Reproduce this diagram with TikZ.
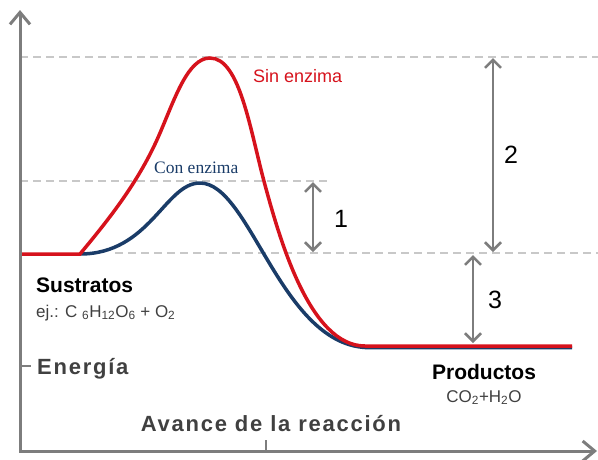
\documentclass[tikz,border=0pt]{standalone}
\usepackage{fontspec}
\setmainfont{Liberation Sans}
\newfontfamily\timesfont{Liberation Serif}
\newfontfamily\widefont[LetterSpace=8]{Liberation Sans}
\usetikzlibrary{arrows.meta}

\definecolor{sinred}{RGB}{214,18,28}
\definecolor{conblue}{RGB}{26,60,104}
\definecolor{axisgray}{RGB}{125,125,125}
\definecolor{guidegray}{RGB}{200,200,200}
\definecolor{labelgray}{RGB}{64,64,64}

\begin{document}
\begin{tikzpicture}[
  x=1pt, y=-1pt,
  every node/.style={inner sep=0pt},
  axis/.style={draw=axisgray, line width=3pt},
  guide/.style={draw=guidegray, line width=2pt, dash pattern=on 8pt off 5pt},
  span/.style={draw=axisgray, line width=2.5pt,
    {Straight Barb[length=8pt,width=16pt]}-{Straight Barb[length=8pt,width=16pt]}},
  sinline/.style={draw=sinred, line width=3.5pt},
  conline/.style={draw=conblue, line width=3.5pt},
  axislabel/.style={font=\widefont\fontsize{22}{26}\selectfont\bfseries, text=labelgray},
  statelabel/.style={font=\fontsize{21}{25}\selectfont\bfseries},
  formula/.style={font=\fontsize{17}{20}\selectfont, text=labelgray},
  number/.style={font=\fontsize{25}{30}\selectfont}
]
  \useasboundingbox (0,0) rectangle (598,459);

  % Axes
  \coordinate (O) at (20,451);
  \coordinate (Ytop) at (20,10);
  \coordinate (Xend) at (597,451);
  \coordinate (Ytick) at (20,366);
  \coordinate (Ytickend) at (31,366);
  \coordinate (Xtick) at (266,451);
  \coordinate (Xtickend) at (266,440);

  % Energy levels
  \coordinate (TopL) at (20,57);
  \coordinate (TopR) at (598,57);
  \coordinate (MidL) at (20,181);
  \coordinate (MidR) at (327,181);
  \coordinate (LowL) at (115,253);
  \coordinate (LowR) at (598,253);

  % Guides
  \draw[guide] (TopL) -- (TopR);
  \draw[guide] (MidL) -- (MidR);
  \draw[guide] (LowL) -- (LowR);

  % Curves
  \draw[conline] (80,254) .. controls (150,254) and (165,183) .. (200,183)
    .. controls (250,183) and (280,342) .. (365,347.5) -- (572,347.5);
  \draw[sinline] (20,254) -- (80,254) .. controls (110,218) and (140,180) .. (160,133)
    .. controls (175,98) and (188,58) .. (210,58)
    .. controls (240,58) and (250,130) .. (265,185)
    .. controls (280,240) and (310,346) .. (365,346) -- (572,346);

  \draw[axis, line join=miter, {Straight Barb[length=12pt,width=20pt]}-{Straight Barb[length=12pt,width=20pt]}]
    (Ytop) -- (O) -- (Xend);
  \draw[axis, line width=2pt] (Ytick) -- (Ytickend);
  \draw[axis, line width=2pt] (Xtick) -- (Xtickend);

  % Differences
  \coordinate (A1top) at (313,182);
  \coordinate (A1bot) at (313,252);
  \coordinate (A2top) at (493,58);
  \coordinate (A2bot) at (493,252);
  \coordinate (A3top) at (473,255);
  \coordinate (A3bot) at (473,343);
  \draw[span] (A1top) -- (A1bot);
  \draw[span] (A2top) -- (A2bot);
  \draw[span] (A3top) -- (A3bot);

  \node[number, anchor=base] (N1) at (341,227) {1};
  \node[number, anchor=base] (N2) at (511,163) {2};
  \node[number, anchor=base] (N3) at (495,308) {3};

  % Labels
  \node[anchor=base west, text=sinred, font=\fontsize{18}{21}\selectfont] (Sin) at (253,82) {Sin enzima};
  \node[anchor=base west, text=conblue, font=\timesfont\fontsize{17.5}{21}\selectfont] (Con) at (154,173) {Con enzima};
  \node[statelabel, anchor=base west] (Sus) at (36,292) {Sustratos};
  \node[formula, anchor=base west] (SusEq) at (36,317)
    {ej.: C \textsubscript{6}H\textsubscript{12}O\textsubscript{6} + O\textsubscript{2}};
  \node[statelabel, anchor=base] (Pro) at (484,379) {Productos};
  \node[formula, anchor=base] (ProEq) at (484,402)
    {CO\textsubscript{2}+H\textsubscript{2}O};
  \node[axislabel, anchor=base west] (Ene) at (37,374) {Energía};
  \node[axislabel, anchor=base] (Ava) at (271,431) {Avance de la reacción};
\end{tikzpicture}
\end{document}
